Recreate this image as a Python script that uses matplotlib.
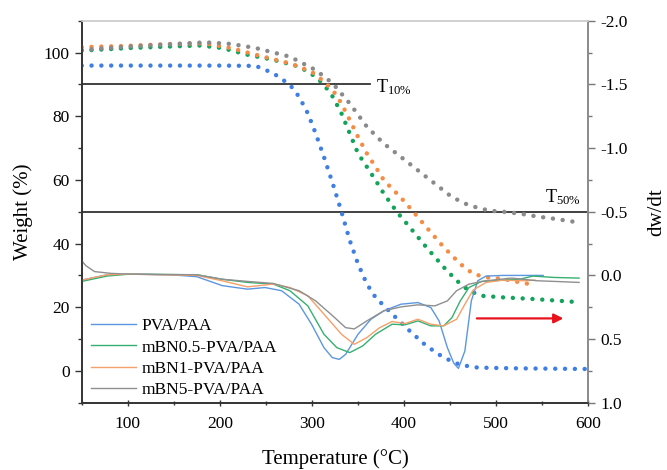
import matplotlib
matplotlib.use("Agg")
import matplotlib.pyplot as plt
from matplotlib.ticker import MultipleLocator

plt.rcParams['font.family'] = ['Liberation Serif', 'DejaVu Serif']
plt.rcParams['axes.unicode_minus'] = False
plt.rcParams['mathtext.fontset'] = 'custom'
plt.rcParams['mathtext.rm'] = 'Liberation Serif'
plt.rcParams['mathtext.it'] = 'Liberation Serif:italic'
plt.rcParams['mathtext.bf'] = 'Liberation Serif:bold'

# ---------------- TGA (weight %) data ----------------
pva_T = [50, 100, 150, 200, 239, 258, 276, 286, 295.5, 304, 313, 322.6, 332, 341, 350,
         359.6, 369, 387, 406, 424, 443, 461, 480, 517, 600]
pva_W = [95.9, 95.9, 95.9, 95.9, 95.8, 93.5, 89.9, 86.1, 80.9, 74.6, 67.2, 58.8, 50.0, 41.0,
         33.6, 27.3, 23.1, 17.9, 12.6, 7.9, 4.2, 1.9, 1.05, 0.84, 0.6]

bn05_T = [50, 101, 147, 179, 202.5, 230, 258, 286, 304, 313, 322.6, 332, 341, 350, 359.6,
          369, 378, 392, 406, 424, 443, 457, 470.5, 484, 507.5, 540, 585]
bn05_W = [100.6, 101.4, 101.9, 102.2, 101.4, 99.3, 97.7, 95.6, 92.4, 89.9, 86.1, 80.9, 74.6,
          68.3, 64.1, 59.9, 55.7, 50.0, 45.2, 38.9, 32.6, 28.4, 25.2, 23.6, 23.1, 22.6, 21.7]

bn1_T = [50, 101, 147, 184, 212, 239, 276, 299.5, 313, 322.6, 332, 341, 350, 359.6, 369,
         378, 396, 410, 424, 443, 461, 475, 489, 507.5, 526, 540]
bn1_W = [101.7, 102.1, 102.7, 102.9, 101.4, 99.3, 96.6, 94.0, 90.9, 88.2, 84.0, 78.8, 73.5,
         68.3, 64.1, 59.9, 54.6, 50.0, 45.2, 38.9, 33.6, 30.5, 29.4, 28.9, 27.8, 27.1]

bn5_T = [50, 101, 147, 184, 212, 239, 276, 304, 322.6, 341, 359.6, 378, 396.6, 415, 433.5,
         452, 470.5, 493, 507.5, 526, 544.5, 563, 588]
bn5_W = [100.8, 101.9, 102.6, 103.2, 102.7, 101.4, 98.7, 94.5, 90.3, 84.0, 76.7, 71.4, 67.2,
         63.0, 58.8, 54.6, 52.0, 50.3, 50.0, 49.4, 48.5, 47.8, 46.7]

# ---------------- DTG (dw/dt) data ----------------
pva_dT = [50, 77.7, 101, 147, 175, 202.5, 230, 249, 267, 286, 299.5, 313, 322, 329.6, 336.5,
          350, 364, 378, 396.6, 415, 429, 438, 447, 454, 459, 466, 473, 480, 489, 507.5, 551]
pva_D = [0.037, -0.005, -0.01, -0.005, 0.01, 0.08, 0.108, 0.095, 0.12, 0.226, 0.383, 0.567,
         0.645, 0.659, 0.62, 0.462, 0.344, 0.278, 0.226, 0.213, 0.252, 0.357, 0.567, 0.69,
         0.73, 0.593, 0.2, 0.042, 0.005, 0.0, 0.0]

bn05_dT = [50, 77.7, 101, 175, 202.5, 230, 258, 276, 295.5, 313, 327, 341, 355, 369, 387,
           401, 415, 429, 443, 452, 461, 470.5, 484, 507.5, 526, 540, 563, 590]
bn05_D = [0.047, 0.005, -0.01, -0.005, 0.03, 0.055, 0.068, 0.12, 0.239, 0.462, 0.567, 0.606,
          0.554, 0.462, 0.383, 0.388, 0.357, 0.396, 0.396, 0.331, 0.2, 0.095, 0.047, 0.037,
          0.029, 0.005, 0.016, 0.021]

bn1_dT = [50, 77.7, 101, 175, 202.5, 230, 258, 276, 295.5, 313, 332, 346, 359.6, 373.5, 387,
          401, 415, 429, 443, 457, 466, 475, 489, 507.5, 530.6, 542]
bn1_D = [0.037, -0.005, -0.01, 0.0, 0.042, 0.09, 0.068, 0.095, 0.16, 0.304, 0.462, 0.541,
         0.488, 0.41, 0.362, 0.378, 0.344, 0.383, 0.396, 0.344, 0.226, 0.115, 0.055, 0.037,
         0.042, 0.037]

bn5_dT = [50, 54.6, 64, 82, 101, 175, 202.5, 230, 258, 286, 304, 322.6, 336.5, 346, 359.6,
          378, 396.6, 415, 433.5, 447, 457, 470.5, 489, 517, 544.5, 563, 590]
bn5_D = [-0.115, -0.076, -0.03, -0.016, -0.01, -0.005, 0.03, 0.047, 0.063, 0.12, 0.2, 0.318,
         0.41, 0.42, 0.357, 0.278, 0.247, 0.231, 0.239, 0.2, 0.12, 0.068, 0.042, 0.021, 0.042,
         0.047, 0.055]

labels = ['PVA/PAA', 'mBN0.5-PVA/PAA', 'mBN1-PVA/PAA', 'mBN5-PVA/PAA']
tga_colors = ['#3f7fe3', '#14a35a', '#f58c45', '#8a8a8a']
dtg_colors = ['#5b97e0', '#35b070', '#f5a06a', '#8f8f8f']

fig = plt.figure(figsize=(6.67, 4.70), dpi=100)
ax = fig.add_axes([0.1225, 0.143, 0.7595, 0.813])
ax2 = ax.twinx()

dot_style = (0, (0.01, 2.2))
for T, W, c in zip([pva_T, bn05_T, bn1_T, bn5_T], [pva_W, bn05_W, bn1_W, bn5_W], tga_colors):
    ax.plot(T, W, color=c, lw=3.2, linestyle=dot_style, dash_capstyle='round', zorder=3)

lines = []
for T, D, c, lab in zip([pva_dT, bn05_dT, bn1_dT, bn5_dT], [pva_D, bn05_D, bn1_D, bn5_D],
                        dtg_colors, labels):
    ln, = ax2.plot(T, D, color=c, lw=1.0, label=lab)
    lines.append(ln)

# reference lines
ax.plot([50, 363], [90, 90], color='#333333', lw=1.3, zorder=2)
ax.axhline(50, color='#333333', lw=1.3, zorder=2)
ax.text(369, 89, r'T$_{10\%}$', fontsize=13, va='center', ha='left')
ax.text(572, 54.5, r'T$_{50\%}$', fontsize=13, va='center', ha='center')

# red arrow
ax.annotate('', xy=(573, 16.5), xytext=(479, 16.5),
            arrowprops=dict(arrowstyle='-|>', color='#e8121b', lw=1.6,
                            mutation_scale=14, shrinkA=0, shrinkB=0))

ax.set_xlim(50, 600)
ax.set_ylim(-10, 110)
ax2.set_ylim(1.0, -2.0)

ax.xaxis.set_major_locator(MultipleLocator(100))
ax.xaxis.set_minor_locator(MultipleLocator(50))
ax.yaxis.set_major_locator(MultipleLocator(20))
ax.yaxis.set_minor_locator(MultipleLocator(10))
ax2.yaxis.set_minor_locator(MultipleLocator(0.25))
ax2.set_yticks([-2.0, -1.5, -1.0, -0.5, 0.0, 0.5, 1.0])
ax2.set_yticklabels(['-2.0', '-1.5', '-1.0', '-0.5', '0.0', '0.5', '1.0'])

ax.tick_params(axis='both', which='major', labelsize=12.5, length=5, width=1, color='#333333')
ax.tick_params(axis='both', which='minor', length=3, width=1, color='#333333')
ax.tick_params(axis='x', which='both', direction='inout', pad=7)
ax2.tick_params(axis='y', which='major', labelsize=12.5, length=5, width=1, color='#777777')
ax2.tick_params(axis='y', which='minor', length=3, width=1, color='#777777')

for a in (ax, ax2):
    a.spines['left'].set_color('#333333')
    a.spines['bottom'].set_color('#333333')
    a.spines['right'].set_color('#8a8a8a')
    a.spines['top'].set_color('#d0d0d0')
    for s in a.spines.values():
        s.set_linewidth(1.2)

ax.set_xlabel('Temperature (°C)', fontsize=15, labelpad=12)
ax.set_ylabel('Weight (%)', fontsize=15, labelpad=8)
ax2.set_ylabel('dw/dt', fontsize=15, labelpad=14, rotation=90)

leg = ax2.legend(handles=lines, loc='upper left', bbox_to_anchor=(0.005, 0.24),
                 frameon=False, fontsize=12.5, handlelength=2.6, handletextpad=0.3,
                 labelspacing=0.3, borderaxespad=0.0)

fig.savefig('out.png', dpi=100)
